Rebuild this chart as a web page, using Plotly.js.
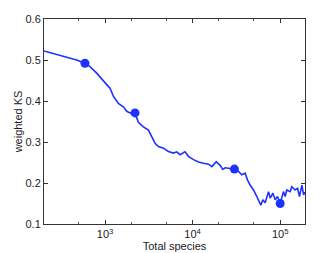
<!DOCTYPE html>
<html><head><meta charset="utf-8">
<script src="https://cdn.plot.ly/plotly-3.0.1.min.js"></script>
<style>html,body{margin:0;padding:0;background:#fff}#c{width:336px;height:253px}</style>
</head><body><div id="c"></div>
<script>
const species = [201, 333, 474, 590, 674, 803, 957, 1045, 1140, 1245, 1360, 1420, 1620, 1770, 1930, 2200, 2400, 2740, 3130, 3415, 3727, 4070, 4640, 5290, 6040, 6590, 7190, 8200, 8950, 10230, 11660, 13300, 15200, 16600, 18600, 20600, 22100, 23500, 26000, 29300, 33400, 36500, 39800, 42400, 45400, 49600, 54100, 57900, 60100, 63400, 67400, 73600, 76900, 82500, 87700, 93200, 100000, 109000, 114000, 119000, 130000, 136000, 148000, 158000, 166000, 177000, 185000, 192000];
const weightedKS = [0.522, 0.508, 0.500, 0.492, 0.484, 0.468, 0.451, 0.440, 0.431, 0.412, 0.400, 0.394, 0.386, 0.375, 0.371, 0.371, 0.348, 0.337, 0.329, 0.312, 0.297, 0.289, 0.285, 0.277, 0.273, 0.276, 0.269, 0.276, 0.265, 0.257, 0.251, 0.248, 0.246, 0.240, 0.252, 0.243, 0.233, 0.237, 0.235, 0.234, 0.228, 0.220, 0.224, 0.207, 0.195, 0.183, 0.167, 0.154, 0.146, 0.159, 0.152, 0.179, 0.163, 0.175, 0.159, 0.167, 0.150, 0.179, 0.167, 0.183, 0.179, 0.191, 0.183, 0.187, 0.167, 0.195, 0.171, 0.178];
const markerSpecies = [590, 2200, 30000, 100000];
const markerKS = [0.492, 0.371, 0.234, 0.150];
const xTickVals = [1000, 10000, 100000];
const xTickText = ['10<sup>3</sup>', '10<sup>4</sup>', '10<sup>5</sup>'];
const yTickVals = [0.1, 0.2, 0.3, 0.4, 0.5, 0.6];

const blue = 'rgb(30,50,255)';
const data = [
  {x: species, y: weightedKS, mode: 'lines', line: {color: blue, width: 1.6}, hoverinfo: 'skip'},
  {x: markerSpecies, y: markerKS, mode: 'markers', marker: {color: blue, size: 9}, hoverinfo: 'skip'}
];
const font = {family: 'Liberation Sans, Arial, sans-serif', size: 11, color: '#222'};
const layout = {
  width: 336, height: 253,
  margin: {l: 44, r: 31, t: 19, b: 29, pad: 0},
  paper_bgcolor: '#fff', plot_bgcolor: '#fff',
  showlegend: false, font: font,
  xaxis: {
    type: 'log', range: [Math.log10(201), Math.log10(192000)],
    tickvals: xTickVals, ticktext: xTickText,
    ticks: 'inside', ticklen: 4, tickcolor: '#333', tickwidth: 1,
    minor: {ticks: 'inside', ticklen: 2, tickcolor: '#555', dtick: 'D2', showgrid: false},
    showline: true, linecolor: '#333', linewidth: 1, mirror: 'ticks',
    showgrid: false, zeroline: false,
    title: {text: 'Total species', font: font, standoff: 2}
  },
  yaxis: {
    range: [0.1, 0.6], tickvals: yTickVals, tickformat: '.1f',
    ticks: 'inside', ticklen: 4, tickcolor: '#333', tickwidth: 1,
    showline: true, linecolor: '#333', linewidth: 1, mirror: 'ticks',
    showgrid: false, zeroline: false,
    title: {text: 'weighted KS', font: font, standoff: 0}
  }
};
Plotly.newPlot('c', data, layout, {staticPlot: true, displayModeBar: false});
</script></body></html>
